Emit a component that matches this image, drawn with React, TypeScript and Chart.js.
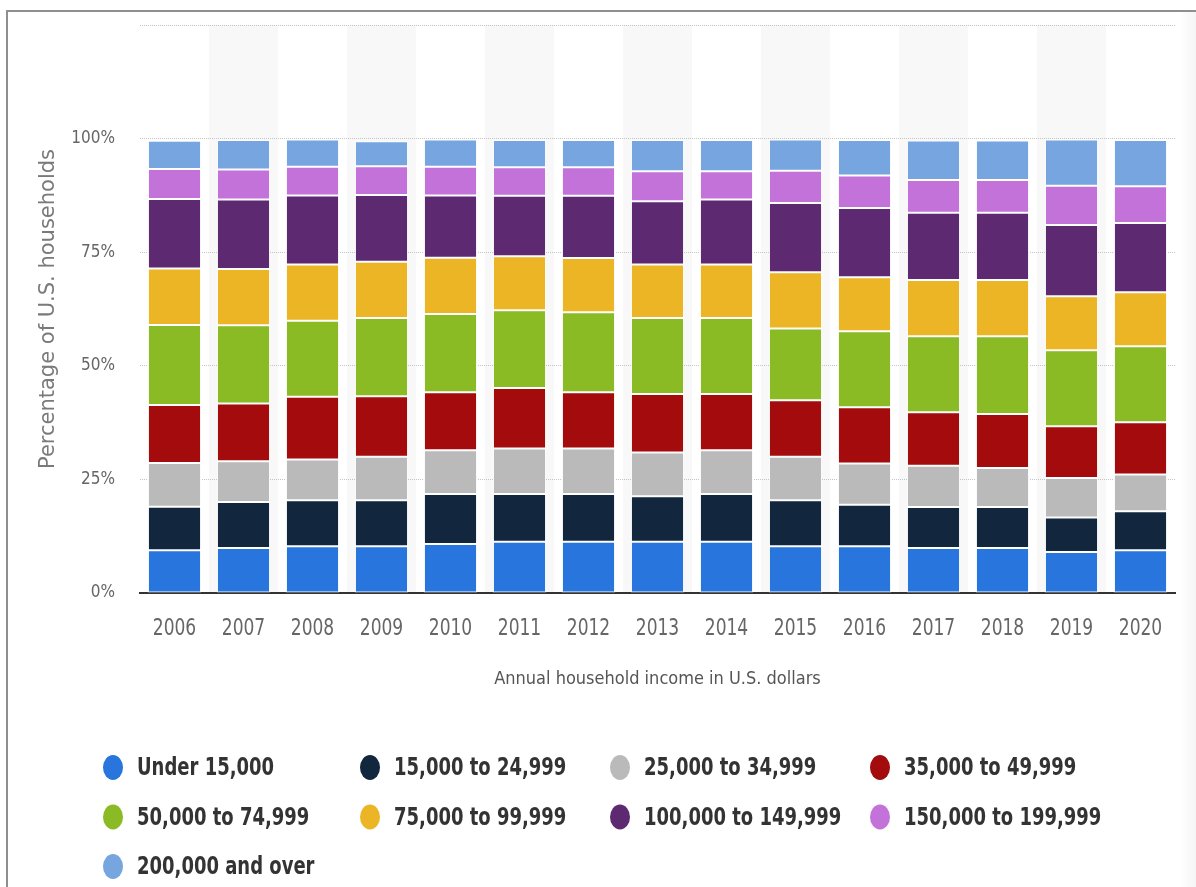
import React, { useEffect, useRef } from 'react';
import { Chart, registerables } from 'chart.js';

Chart.register(...registerables);

const years = ['2006', '2007', '2008', '2009', '2010', '2011', '2012', '2013', '2014', '2015', '2016', '2017', '2018', '2019', '2020'];

const under15 = [9.4, 9.9, 10.3, 10.3, 10.8, 11.3, 11.3, 11.3, 11.3, 10.3, 10.3, 9.9, 9.9, 9.0, 9.4];
const r15to25 = [9.6, 10.1, 10.1, 10.1, 11.0, 10.5, 10.5, 10.0, 10.5, 10.1, 9.1, 9.0, 9.0, 7.6, 8.6];
const r25to35 = [9.6, 9.0, 9.0, 9.6, 9.6, 10.0, 10.0, 9.6, 9.6, 9.6, 9.1, 9.1, 8.6, 8.7, 8.1];
const r35to50 = [12.8, 12.7, 13.8, 13.3, 12.8, 13.3, 12.4, 12.9, 12.4, 12.4, 12.4, 11.8, 11.9, 11.4, 11.5];
const r50to75 = [17.6, 17.2, 16.7, 17.2, 17.2, 17.1, 17.6, 16.7, 16.7, 15.8, 16.7, 16.7, 17.1, 16.7, 16.7];
const r75to100 = [12.4, 12.4, 12.4, 12.4, 12.4, 11.9, 11.9, 11.8, 11.8, 12.4, 11.9, 12.4, 12.4, 11.9, 11.9];
const r100to150 = [15.3, 15.3, 15.2, 14.7, 13.7, 13.3, 13.7, 13.9, 14.3, 15.2, 15.2, 14.8, 14.8, 15.7, 15.2];
const r150to200 = [6.6, 6.6, 6.3, 6.3, 6.3, 6.3, 6.3, 6.6, 6.2, 7.1, 7.2, 7.2, 7.2, 8.6, 8.1];
const over200 = [6.2, 6.5, 6.0, 5.5, 6.0, 6.0, 6.0, 6.9, 6.9, 6.9, 7.8, 8.7, 8.7, 10.2, 10.2];

const seriesNames = [
  'Under 15,000',
  '15,000 to 24,999',
  '25,000 to 34,999',
  '35,000 to 49,999',
  '50,000 to 74,999',
  '75,000 to 99,999',
  '100,000 to 149,999',
  '150,000 to 199,999',
  '200,000 and over',
];
const seriesValues = [under15, r15to25, r25to35, r35to50, r50to75, r75to100, r100to150, r150to200, over200];
const seriesColors = ['#2876dd', '#12263d', '#bababa', '#a30b0c', '#8aba24', '#ebb525', '#5d2a72', '#c272d8', '#76a5e0'];

const yAxisMax = 125;
const yAxisStep = 25;

const COND = '"DejaVu Sans Condensed", "DejaVu Sans", sans-serif';

const bandPlugin = {
  id: 'columnBands',
  beforeDraw(chart: any) {
    const { ctx, chartArea, scales } = chart;
    const xs = scales.x;
    const n = chart.data.labels.length;
    const w = (chartArea.right - chartArea.left) / n;
    ctx.save();
    ctx.fillStyle = '#f8f8f8';
    for (let i = 1; i < n; i += 2) {
      const c = xs.getPixelForValue(i);
      ctx.fillRect(c - w / 2, chartArea.top, w, chartArea.bottom - chartArea.top);
    }
    ctx.restore();
  },
};

const tallXTicksPlugin = {
  id: 'tallXTicks',
  afterDraw(chart: any) {
    const { ctx } = chart;
    const xs = chart.scales.x;
    ctx.save();
    ctx.font = `19px ${COND}`;
    ctx.fillStyle = '#666666';
    ctx.textAlign = 'center';
    ctx.textBaseline = 'middle';
    xs.ticks.forEach((t: any, i: number) => {
      const px = xs.getPixelForTick(i);
      ctx.save();
      ctx.translate(px, xs.top + 36);
      ctx.scale(1, 1.25);
      ctx.fillText(String(xs.getLabelForValue(t.value)), 0, 0);
      ctx.restore();
    });
    ctx.restore();
  },
};

const gridLegendPlugin = {
  id: 'gridLegend',
  afterDraw(chart: any) {
    const ctx = chart.ctx;
    const cols = [113, 370, 620, 880];
    const rows = [767.5, 817, 866.5];
    ctx.save();
    chart.data.datasets.forEach((ds: any, i: number) => {
      const cx = cols[i % 4];
      const cy = rows[Math.floor(i / 4)];
      ctx.fillStyle = ds.backgroundColor;
      ctx.beginPath();
      ctx.ellipse(cx, cy, 10, 12.5, 0, 0, Math.PI * 2);
      ctx.fill();
      ctx.save();
      ctx.translate(cx + 24, cy + 1);
      ctx.scale(1, 1.25);
      ctx.fillStyle = '#333333';
      ctx.font = `bold 20px ${COND}`;
      ctx.textBaseline = 'middle';
      ctx.textAlign = 'left';
      ctx.fillText(ds.label, 0, 0);
      ctx.restore();
    });
    ctx.restore();
  },
};

export default function App() {
  const canvasRef = useRef<HTMLCanvasElement | null>(null);

  useEffect(() => {
    document.body.style.margin = '0';
    const canvas = canvasRef.current;
    if (!canvas) return;
    const chart = new Chart(canvas, {
      type: 'bar',
      data: {
        labels: years,
        datasets: seriesNames.map((name, i) => ({
          label: name,
          data: seriesValues[i],
          backgroundColor: seriesColors[i],
          borderColor: '#ffffff',
          borderWidth: 1,
          borderSkipped: false,
          categoryPercentage: 1,
          barPercentage: 0.77,
        })),
      },
      options: {
        responsive: false,
        devicePixelRatio: 1,
        animation: false,
        layout: { padding: { left: 0, right: 21, top: 25, bottom: 184 } },
        plugins: {
          legend: { display: false },
          tooltip: { enabled: false },
        },
        scales: {
          x: {
            stacked: true,
            grid: { display: false, drawTicks: false },
            border: { display: true, color: '#333333', width: 2 },
            ticks: { display: false },
            title: {
              display: true,
              text: 'Annual household income in U.S. dollars',
              color: '#555555',
              font: { family: COND, size: 18 },
              padding: { top: 0, bottom: 13 },
            },
            afterFit: (scale: any) => {
              scale.height = 110;
              scale.paddingLeft = 0;
              scale.paddingRight = 0;
            },
          },
          y: {
            stacked: true,
            min: 0,
            max: yAxisMax,
            grid: {
              color: (c: any) => (c.tick && c.tick.value === 0 ? 'rgba(0,0,0,0)' : '#c4c4c4'),
              drawTicks: false,
              lineWidth: 1,
            },
            border: { display: false, dash: [1, 1] },
            ticks: {
              stepSize: yAxisStep,
              color: '#666666',
              font: { family: COND, size: 17 },
              padding: 25,
              callback: (v: any) => (v === yAxisMax ? '' : v + '%'),
            },
            title: {
              display: true,
              text: 'Percentage of U.S. households',
              color: '#7a7a7a',
              font: { family: '"DejaVu Sans", sans-serif', size: 21 },
              padding: { top: 36, bottom: 0 },
            },
            afterFit: (scale: any) => {
              scale.width = 140;
              scale.paddingTop = 0;
              scale.paddingBottom = 0;
            },
          },
        },
      },
      plugins: [bandPlugin, tallXTicksPlugin, gridLegendPlugin],
    });
    return () => chart.destroy();
  }, []);

  return (
    <div style={{ position: 'relative', width: 1196, height: 887, overflow: 'hidden', background: '#ffffff' }}>
      <canvas ref={canvasRef} width={1196} height={887} style={{ display: 'block' }} />
      <div
        style={{
          position: 'absolute',
          left: 1180,
          top: 12,
          width: 16,
          height: 875,
          background: 'linear-gradient(to right, rgba(0,0,0,0), rgba(0,0,0,0.04))',
          pointerEvents: 'none',
        }}
      />
      <div
        style={{
          position: 'absolute',
          left: 6,
          top: 10,
          width: 1400,
          height: 1000,
          borderLeft: '2px solid #8f8f8f',
          borderTop: '2px solid #8f8f8f',
          pointerEvents: 'none',
        }}
      />
    </div>
  );
}
